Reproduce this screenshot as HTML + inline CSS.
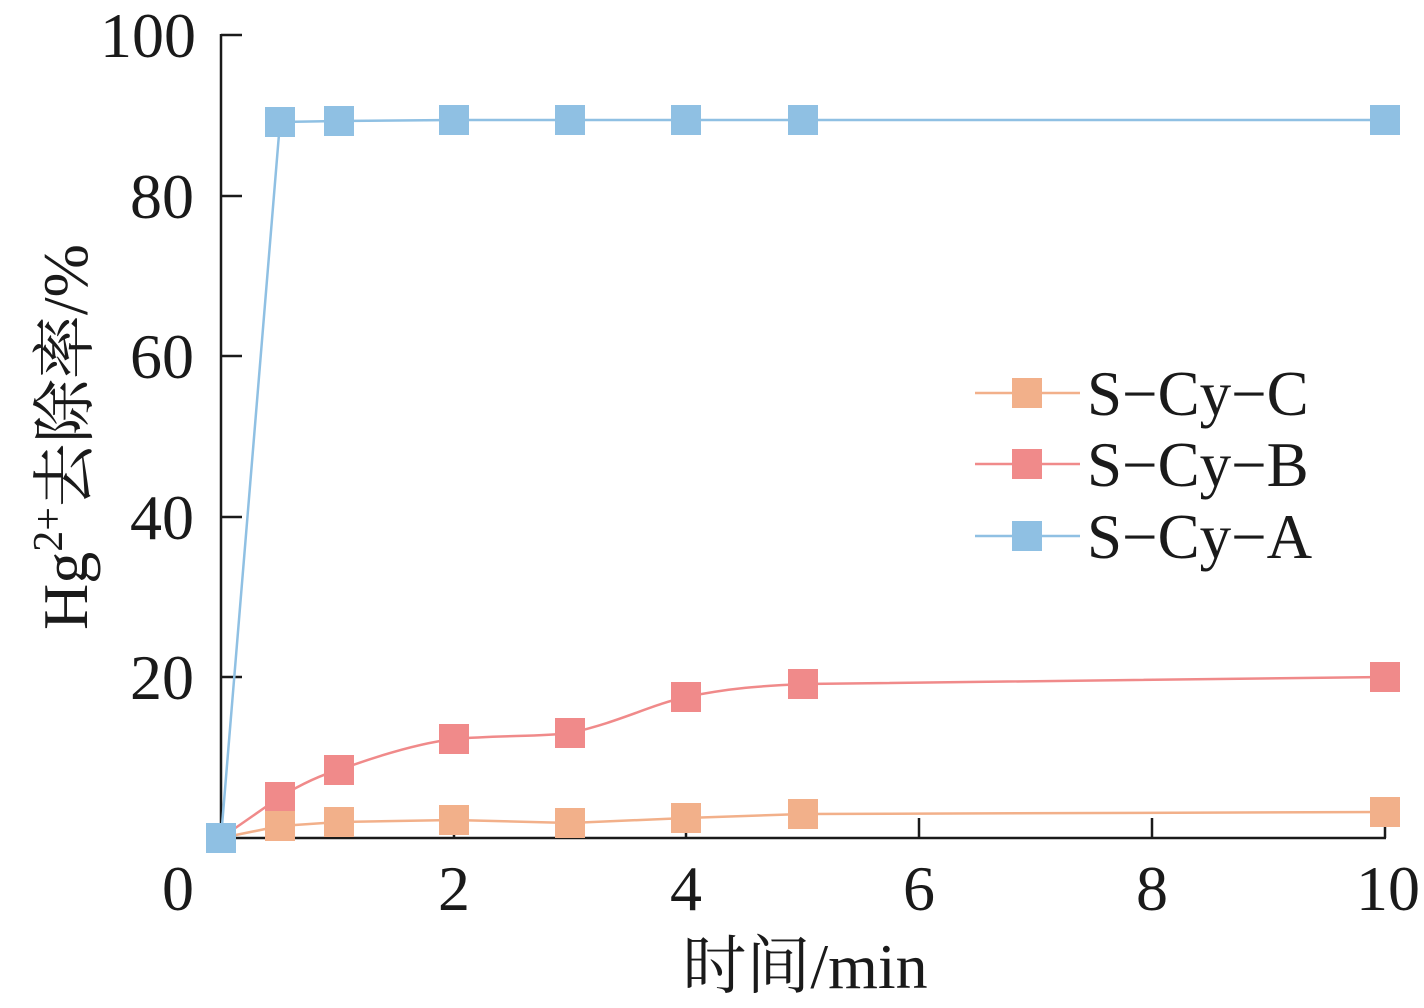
<!DOCTYPE html>
<html><head><meta charset="utf-8"><style>
html,body{margin:0;padding:0;background:#fff}
svg{display:block}
text{font-family:"Liberation Serif","Times New Roman","Noto Serif CJK SC",serif;fill:#1a1a1a}
</style></head><body>
<svg width="1424" height="1008" viewBox="0 0 1424 1008" xmlns="http://www.w3.org/2000/svg">
<g stroke="#1a1a1a" stroke-width="2.5" fill="none">
<line x1="221" y1="34" x2="221" y2="839"/>
<line x1="220" y1="838" x2="1386" y2="838"/>
<line x1="221" y1="35" x2="242" y2="35"/>
<line x1="221" y1="196" x2="242" y2="196"/>
<line x1="221" y1="356" x2="242" y2="356"/>
<line x1="221" y1="517" x2="242" y2="517"/>
<line x1="221" y1="677" x2="242" y2="677"/>
<line x1="454" y1="838" x2="454" y2="818"/>
<line x1="686" y1="838" x2="686" y2="818"/>
<line x1="919" y1="838" x2="919" y2="818"/>
<line x1="1152" y1="838" x2="1152" y2="818"/>
<line x1="1385" y1="838" x2="1385" y2="818"/>
</g>
<g font-size="64" text-anchor="end" font-family="Liberation Serif, serif">
<text x="196" y="57">100</text>
<text x="194" y="218">80</text>
<text x="194" y="378">60</text>
<text x="194" y="539">40</text>
<text x="194" y="699">20</text>
</g>
<g font-size="64" text-anchor="middle" font-family="Liberation Serif, Noto Serif CJK SC, serif">
<text x="178" y="910">0</text>
<text x="454" y="910">2</text>
<text x="686" y="910">4</text>
<text x="919" y="910">6</text>
<text x="1152" y="910">8</text>
<text x="1388" y="910">10</text>
<text x="805" y="988">时间/min</text>
</g>
<text transform="translate(87,437) rotate(-90)" font-size="64" text-anchor="middle" font-family="Liberation Serif, Noto Serif CJK SC, serif">Hg<tspan font-size="42" dy="-25">2+</tspan><tspan dy="25">去除率/%</tspan></text>
<polyline fill="none" stroke="#8fc0e3" stroke-width="2.5" points="221,838 280,122 339,121 454,120 570,120 686,120 803,120 1385,120"/>
<path fill="none" stroke="#f08a8a" stroke-width="2.5" d="M221,838 L280,797 C300,785 320,775 339,770 C380,755 420,743 454,739 C500,735 540,737 570,733 C620,722 650,705 686,697 C730,688 760,686 803,684 L1385,677"/>
<polyline fill="none" stroke="#f2b08a" stroke-width="2.5" points="221,838 280,826 339,822 454,820 570,823 686,818 803,814 1385,812"/>
<g fill="#8fc0e3">
<rect x="265" y="107" width="30" height="30"/><rect x="324" y="106" width="30" height="30"/><rect x="439" y="105" width="30" height="30"/><rect x="555" y="105" width="30" height="30"/><rect x="671" y="105" width="30" height="30"/><rect x="788" y="105" width="30" height="30"/><rect x="1370" y="105" width="30" height="30"/>
</g>
<g fill="#f08a8a">
<rect x="265" y="782" width="30" height="30"/><rect x="324" y="755" width="30" height="30"/><rect x="439" y="724" width="30" height="30"/><rect x="555" y="718" width="30" height="30"/><rect x="671" y="682" width="30" height="30"/><rect x="788" y="669" width="30" height="30"/><rect x="1370" y="662" width="30" height="30"/>
</g>
<g fill="#f2b08a">
<rect x="265" y="811" width="30" height="30"/><rect x="324" y="807" width="30" height="30"/><rect x="439" y="805" width="30" height="30"/><rect x="555" y="808" width="30" height="30"/><rect x="671" y="803" width="30" height="30"/><rect x="788" y="799" width="30" height="30"/><rect x="1370" y="797" width="30" height="30"/>
</g>
<rect x="206" y="823" width="30" height="30" fill="#8fc0e3"/>
<line x1="975" y1="393" x2="1080" y2="393" stroke="#f2b08a" stroke-width="2.5"/>
<rect x="1012" y="378" width="30" height="30" fill="#f2b08a"/>
<line x1="975" y1="464" x2="1080" y2="464" stroke="#f08a8a" stroke-width="2.5"/>
<rect x="1012" y="449" width="30" height="30" fill="#f08a8a"/>
<line x1="975" y1="536" x2="1080" y2="536" stroke="#8fc0e3" stroke-width="2.5"/>
<rect x="1012" y="521" width="30" height="30" fill="#8fc0e3"/>
<g font-size="63" font-family="Liberation Serif, serif">
<text x="1087" y="415">S−Cy−C</text>
<text x="1087" y="486">S−Cy−B</text>
<text x="1087" y="558">S−Cy−A</text>
</g>
</svg>
</body></html>
